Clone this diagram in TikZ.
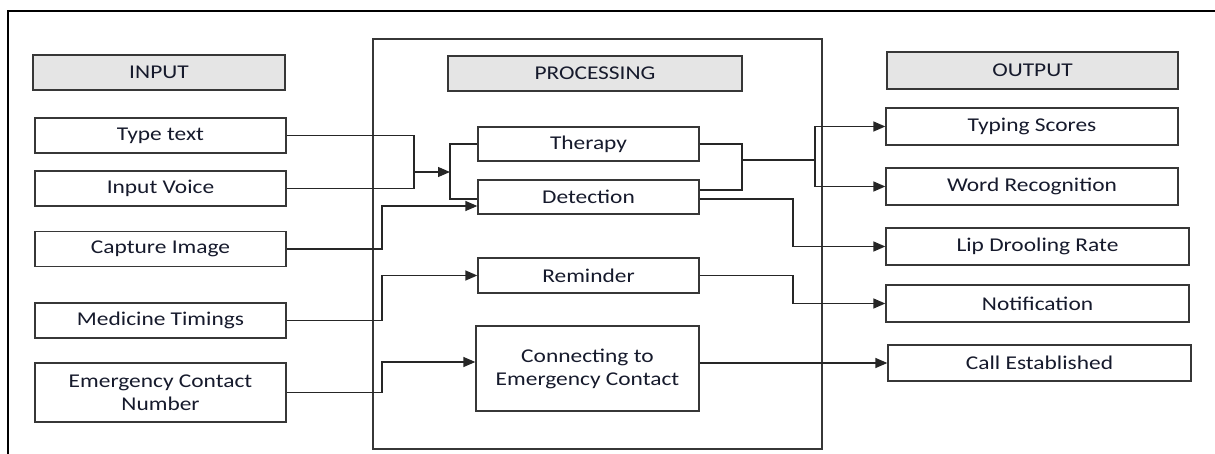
\documentclass[tikz,border=0pt]{standalone}
\usepackage{fontspec}
\setmainfont{Carlito}[FakeStretch=1.2]
\usepackage{xcolor}
\usepackage{tikz}
\usetikzlibrary{arrows.meta, positioning, calc}

\definecolor{txtnavy}{RGB}{22,26,44}
\definecolor{edgegray}{RGB}{55,55,55}
\definecolor{headgray}{RGB}{229,229,229}

\begin{document}
\begin{tikzpicture}[
    x=1pt, y=-1pt,
    font=\fontsize{19.5}{23}\selectfont,
    line width=1.3pt,
    box/.style={
      draw=edgegray,
      fill=white,
      text=txtnavy,
      align=center,
      inner sep=0pt
    },
    head/.style={
      box,
      fill=headgray  % gray header bars
    },
    line/.style={draw=black!85},
    arrow/.style={line, -{Triangle[length=12pt, width=10pt]}}
]
\useasboundingbox (0,0) rectangle (1215,454);
% outer frame (only top and left show)
\draw[line width=1.8pt] (8,454) -- (8,11) -- (1215,11);
% processing frame
\node[draw=edgegray, minimum width=449, minimum height=410] (procbox) at (597.5,244) {};

% input column
\node[head, minimum width=252, minimum height=35] (inhead) at (159,72.5) {INPUT};
\node[box, minimum width=251, minimum height=35] (type) at (160.5,135.5) {Type text};
\node[box, minimum width=251, minimum height=35] (voice) at (160.5,188.5) {Input Voice};
\node[box, minimum width=251, minimum height=35] (capture) at (160.5,249) {Capture Image};
\node[box, minimum width=251, minimum height=35] (medicine) at (160.5,320.5) {Medicine Timings};
\node[box, minimum width=251, minimum height=59] (emergency) at (160.5,392.5) {Emergency Contact\\Number};

% processing column
\node[head, minimum width=294, minimum height=35] (prochead) at (595,73.5) {PROCESSING};
\node[box, minimum width=221, minimum height=34] (therapy) at (588.5,144) {Therapy};
\node[box, minimum width=221, minimum height=34] (detect) at (588.5,197) {Detection};
\node[box, minimum width=221, minimum height=35] (remind) at (588.5,275.5) {Reminder};
\node[box, minimum width=223, minimum height=85] (connect) at (587.5,368.5) {Connecting to\\Emergency Contact};

% output column
\node[head, minimum width=291, minimum height=37] (outhead) at (1032.5,70.5) {OUTPUT};
\node[box, minimum width=292, minimum height=37] (typing) at (1032,126.5) {Typing Scores};
\node[box, minimum width=292, minimum height=37] (word) at (1032,186.5) {Word Recognition};
\node[box, minimum width=303, minimum height=37] (lip) at (1037.5,246.5) {Lip Drooling Rate};
\node[box, minimum width=303, minimum height=37] (notify) at (1037.5,303.5) {Notification};
\node[box, minimum width=303, minimum height=36] (call) at (1039.5,363) {Call Established};

% junction points
\coordinate (mergeL) at (414,172);
\coordinate (splitL) at (450,172);
\coordinate (busL) at (382,0);
\coordinate (mergeR) at (742,160);
\coordinate (splitR) at (815,160);
\coordinate (busR) at (793,0);
\coordinate (detA) at ([yshift=-2pt]detect.west);
\coordinate (detB) at ([yshift=-9pt]detect.west);
\coordinate (detC) at ([yshift=7pt]detect.east);
\coordinate (detD) at ([yshift=-2pt]detect.east);
\coordinate (connA) at ([yshift=6.5pt]connect.west);

% inputs to processing
\draw[line] (type.east) -| (mergeL);
\draw[line] (voice.east) -| (mergeL);
\draw[arrow] (mergeL) -- (splitL);
\draw[line] (splitL) |- (therapy.west);
\draw[line] (splitL) |- (detA);
\draw[arrow] (capture.east) -| (busL |- detB) -- (detB);
\draw[arrow] (medicine.east) -| (busL |- remind.west) -- (remind.west);
\draw[arrow] (emergency.east) -| (busL |- connA) -- (connA);

% processing to outputs
\draw[line] (therapy.east) -| (mergeR);
\draw[line] (detC) -| (mergeR);
\draw[line] (mergeR) -- (splitR);
\draw[arrow] (splitR) |- (typing.west);
\draw[arrow] (splitR) |- (word.west);
\draw[arrow] (detD) -| (busR |- lip.west) -- (lip.west);
\draw[arrow] (remind.east) -| (busR |- notify.west) -- (notify.west);
\draw[arrow] (call.west -| connect.east) -- (call.west);
\end{tikzpicture}
\end{document}
